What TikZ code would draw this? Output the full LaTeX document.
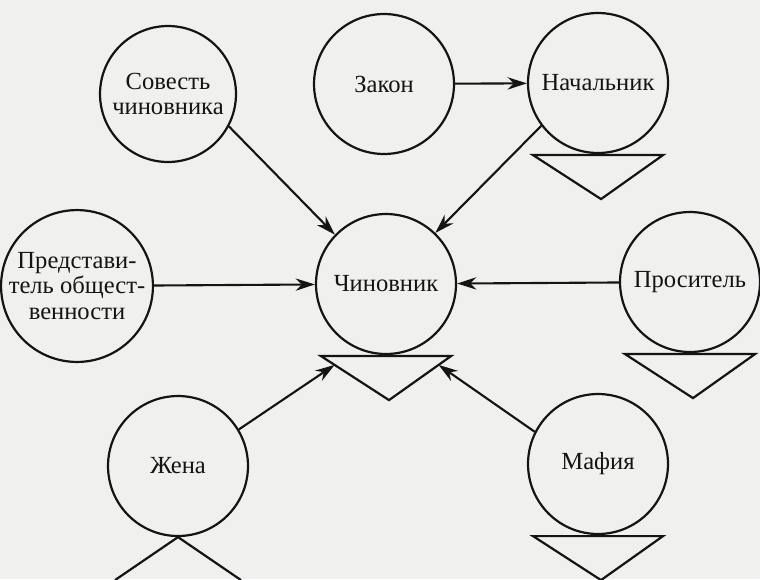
\documentclass[tikz,border=0pt]{standalone}
\usepackage{fontspec}
\setmainfont{Liberation Serif}
\usetikzlibrary{arrows.meta,calc}
\definecolor{bg}{RGB}{240,240,238}
\definecolor{ink}{RGB}{20,20,20}
\begin{document}
\begin{tikzpicture}[x=0.02cm,y=-0.02cm,
  actor/.style={circle,draw=ink,line width=1.25pt,minimum size=2.8cm,inner sep=0pt,align=center,text=ink,font=\fontsize{14}{14.5}\selectfont},
  link/.style={draw=ink,line width=1.2pt,-{Stealth[length=11pt,width=7pt]}},
  tri/.style={draw=ink,line width=1.25pt,line join=miter}]
\fill[bg] (0,0) rectangle (760,579);
\useasboundingbox (0,0) rectangle (760,579);
\node[actor,minimum size=2.72cm] (sov) at (168,94) {Совесть\\чиновника};
\node[actor] (zak) at (384,84) {Закон};
\node[actor] (nach) at (598,83) {Начальник};
\node[actor] (pred) at (77,286) {Представи-\\тель общест-\\венности};
\node[actor] (chin) at (386,284) {Чиновник};
\node[actor] (pros) at (690,282) {Проситель};
\node[actor] (zhena) at (178,466) {Жена};
\node[actor] (maf) at (598,464) {Мафия};
% downward triangles
\foreach \n in {nach,chin,pros,maf}{
  \coordinate (\n L) at ($(\n.south)+(-65,1)$);
  \coordinate (\n R) at ($(\n.south)+(65,1)$);
  \coordinate (\n A) at ($(\n.south)+(3,45)$);
  \draw[tri] (\n L) -- (\n R) -- (\n A) -- cycle;
}
% upward triangle under Zhena (cut by the bottom edge)
\coordinate (zhL) at ($(zhena.south)+(-63,43)$);
\coordinate (zhR) at ($(zhena.south)+(63,43)$);
\draw[tri] (zhL) -- (zhena.south) -- (zhR);
% connectors
\draw[link] (sov.-28) -- (chin.136);
\draw[link] (zak) -- (nach);
\draw[link] (nach.217) -- (chin.46);
\draw[link] (pred) -- (chin);
\draw[link] (pros) -- (chin);
\draw[link] (zhena.31) -- ($(chinL)!0.2!(chinA)$);
\draw[link] (maf.153) -- ($(chinR)!0.2!(chinA)$);
\end{tikzpicture}
\end{document}
